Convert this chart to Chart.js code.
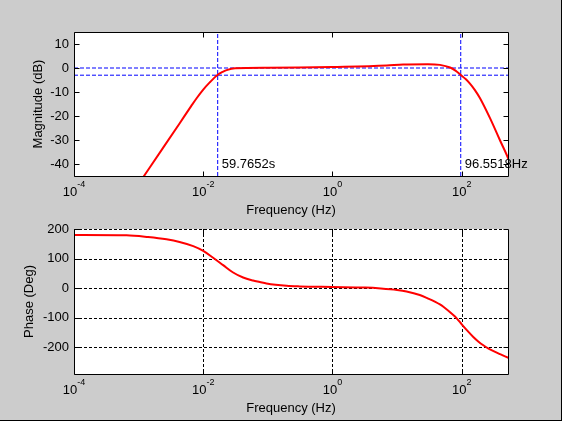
<!DOCTYPE html>
<html>
<head>
<meta charset="utf-8">
<script src="https://cdn.jsdelivr.net/npm/chart.js@4/dist/chart.umd.min.js"></script>
<style>
    html, body { margin: 0; padding: 0; }
    body { width: 562px; height: 421px; background: #cccccc; position: relative; overflow: hidden; }
    #edge { position: absolute; left: 0; top: 0; width: 561px; height: 420px; border-right: 1px solid #000; border-bottom: 1px solid #000; }
    canvas { position: absolute; left: 0; }
    #mag-chart { top: 0; }
    #phase-chart { top: 222px; }
</style>
</head>
<body>
<div id="edge"></div>
<canvas id="mag-chart" width="562" height="222"></canvas>
<canvas id="phase-chart" width="562" height="199"></canvas>
<script>
// --- Data ---
const magFreq = [0.00115, 0.0024, 0.0043, 0.0065, 0.0079, 0.01, 0.0126, 0.0164, 0.02, 0.023, 0.031, 0.1, 0.3, 1, 6.9, 12.4, 30, 46, 66, 80, 96.55, 115, 134, 160, 192, 274, 392, 515, 530];
const magDb   = [-45.9, -33.2, -23.1, -15.9, -12.6, -9.0, -6.0, -3.0, -1.6, -0.9, -0.1, 0.1, 0.2, 0.4, 1.0, 1.5, 1.6, 1.3, 0.2, -1.1, -2.9, -4.6, -6.5, -9.2, -12.6, -20.9, -30.2, -37.2, -38.1];

const phaseFreq = [0.0001, 0.00065, 0.0014, 0.0027, 0.0043, 0.007, 0.01, 0.0142, 0.0203, 0.029, 0.0414, 0.059, 0.075, 0.095, 0.195, 0.31, 1, 3.2, 5.6, 10, 14, 22.4, 28.7, 46, 52, 74, 83.6, 100, 125, 151, 180, 216, 260, 348, 392, 527];
const phaseDeg  = [180, 179, 173, 165, 156, 142, 126, 103, 78, 53, 36, 26, 21, 16, 8, 6, 4, 2, -1, -6, -11, -23, -33, -55, -63, -91, -102, -122, -146, -165, -180, -193, -204, -218, -223, -235];

const xTicks = [1e-4, 1e-2, 1, 100];
const xExponents = ['-4', '-2', '0', '2'];
const magTicks = [-40, -30, -20, -10, 0, 10];
const phaseTicks = [-200, -100, 0, 100, 200];
const refLevels = [0, -3];          // dB
const lowCutSeconds = 59.7652;      // s
const highCutHz = 96.5518;          // Hz

const xMin = 1e-4, xMax = 520;

const FONT = '13px "Liberation Sans", Arial, sans-serif';
const SUP_FONT = '9px "Liberation Sans", Arial, sans-serif';

function px(v) { return Math.round(v) + 0.5; }

// --- Axes look: white box, inside ticks, dashed grid, labels ---
const bodePlugin = {
    id: 'bode',
    beforeDatasetsDraw(chart, args, opts) {
        const { ctx, chartArea: a, scales: { x, y } } = chart;
        ctx.save();
        ctx.fillStyle = '#fff';
        ctx.fillRect(a.left, a.top, a.right - a.left, a.bottom - a.top);
        if (opts.grid) {
            ctx.strokeStyle = '#000';
            ctx.lineWidth = 1;
            ctx.setLineDash([3, 2]);
            ctx.beginPath();
            xTicks.forEach(v => {
                const p = px(x.getPixelForValue(v));
                if (p > a.left + 1 && p < a.right - 1) { ctx.moveTo(p, a.top); ctx.lineTo(p, a.bottom); }
            });
            opts.yTicks.forEach(v => {
                const p = px(y.getPixelForValue(v));
                if (p < a.bottom - 1) { ctx.moveTo(a.left, p); ctx.lineTo(a.right, p); }
            });
            ctx.stroke();
        }
        ctx.restore();
    },
    afterDraw(chart, args, opts) {
        const { ctx, chartArea: a, scales: { x, y } } = chart;
        const L = px(a.left), R = px(a.right), T = px(a.top), B = px(a.bottom);
        ctx.save();
        ctx.strokeStyle = '#000';
        ctx.lineWidth = 1;
        ctx.setLineDash([]);

        // box
        ctx.beginPath();
        ctx.moveTo(L, T); ctx.lineTo(L, B); ctx.lineTo(R, B); ctx.lineTo(R, T);
        if (!opts.grid) ctx.lineTo(L, T);
        ctx.stroke();

        // tick marks pointing inward
        ctx.beginPath();
        xTicks.forEach(v => {
            const p = px(x.getPixelForValue(v));
            ctx.moveTo(p, B); ctx.lineTo(p, B - 5);
            ctx.moveTo(p, T); ctx.lineTo(p, T + 5);
        });
        opts.yTicks.forEach(v => {
            const p = px(y.getPixelForValue(v));
            ctx.moveTo(L, p); ctx.lineTo(L + 5, p);
            ctx.moveTo(R, p); ctx.lineTo(R - 5, p);
        });
        ctx.stroke();

        ctx.fillStyle = '#000';
        ctx.textBaseline = 'middle';

        // y tick labels
        ctx.font = FONT;
        ctx.textAlign = 'right';
        opts.yTicks.forEach(v => ctx.fillText(String(v), a.left - 5, y.getPixelForValue(v)));

        // x tick labels as 10^n
        ctx.textAlign = 'left';
        xTicks.forEach((v, i) => {
            ctx.font = FONT;
            const wBase = ctx.measureText('10').width;
            ctx.font = SUP_FONT;
            const wExp = ctx.measureText(xExponents[i]).width;
            const start = x.getPixelForValue(v) - (wBase + wExp) / 2;
            ctx.font = FONT;
            ctx.fillText('10', start, a.bottom + 16);
            ctx.font = SUP_FONT;
            ctx.fillText(xExponents[i], start + wBase, a.bottom + 9);
        });

        // axis titles
        ctx.font = FONT;
        ctx.textAlign = 'center';
        ctx.fillText('Frequency (Hz)', (a.left + a.right) / 2, a.bottom + 34);
        ctx.save();
        ctx.translate(opts.yTitleX, (a.top + a.bottom) / 2);
        ctx.rotate(-Math.PI / 2);
        ctx.fillText(opts.yTitle, 0, 0);
        ctx.restore();

        // cut-off annotations
        if (opts.notes) {
            ctx.textAlign = 'left';
            opts.notes.forEach(n => ctx.fillText(n.text, x.getPixelForValue(n.x) + 4, y.getPixelForValue(n.y)));
        }
        ctx.restore();
    }
};

function toPoints(xs, ys) {
    return xs.map((v, i) => ({ x: v, y: ys[i] }));
}

function refLine(points) {
    return {
        data: points, borderColor: '#0000ff', borderWidth: 1, borderDash: [4, 2],
        pointRadius: 0, tension: 0, showLine: true, order: 1, clip: 0
    };
}

function makeOptions(yMin, yMax, padding, plugin) {
    return {
        responsive: false,
        animation: false,
        events: [],
        layout: { padding },
        scales: {
            x: { type: 'logarithmic', min: xMin, max: xMax, display: false },
            y: { type: 'linear', min: yMin, max: yMax, display: false }
        },
        plugins: { legend: { display: false }, tooltip: { enabled: false }, bode: plugin }
    };
}

const curveStyle = {
    borderColor: '#ff0000', borderWidth: 2, pointRadius: 0, showLine: true,
    cubicInterpolationMode: 'monotone', order: 0, clip: 0
};

const lowCutHz = 1 / lowCutSeconds;

new Chart(document.getElementById('mag-chart'), {
    type: 'scatter',
    data: {
        datasets: [
            { ...curveStyle, data: toPoints(magFreq, magDb) },
            ...refLevels.map(l => refLine([{ x: xMin, y: l }, { x: xMax, y: l }])),
            refLine([{ x: lowCutHz, y: -45 }, { x: lowCutHz, y: 15 }]),
            refLine([{ x: highCutHz, y: -45 }, { x: highCutHz, y: 15 }])
        ]
    },
    options: makeOptions(-45, 15, { left: 74, top: 32, right: 54, bottom: 46 }, {
        grid: false, yTicks: magTicks, yTitle: 'Magnitude (dB)', yTitleX: 38,
        notes: [
            { text: lowCutSeconds + 's', x: lowCutHz, y: -40 },
            { text: highCutHz + 'Hz', x: highCutHz, y: -40 }
        ]
    }),
    plugins: [bodePlugin]
});

new Chart(document.getElementById('phase-chart'), {
    type: 'scatter',
    data: { datasets: [{ ...curveStyle, data: toPoints(phaseFreq, phaseDeg) }] },
    options: makeOptions(-290, 200, { left: 74, top: 7, right: 54, bottom: 47 }, {
        grid: true, yTicks: phaseTicks, yTitle: 'Phase (Deg)', yTitleX: 29
    }),
    plugins: [bodePlugin]
});
</script>
</body>
</html>
